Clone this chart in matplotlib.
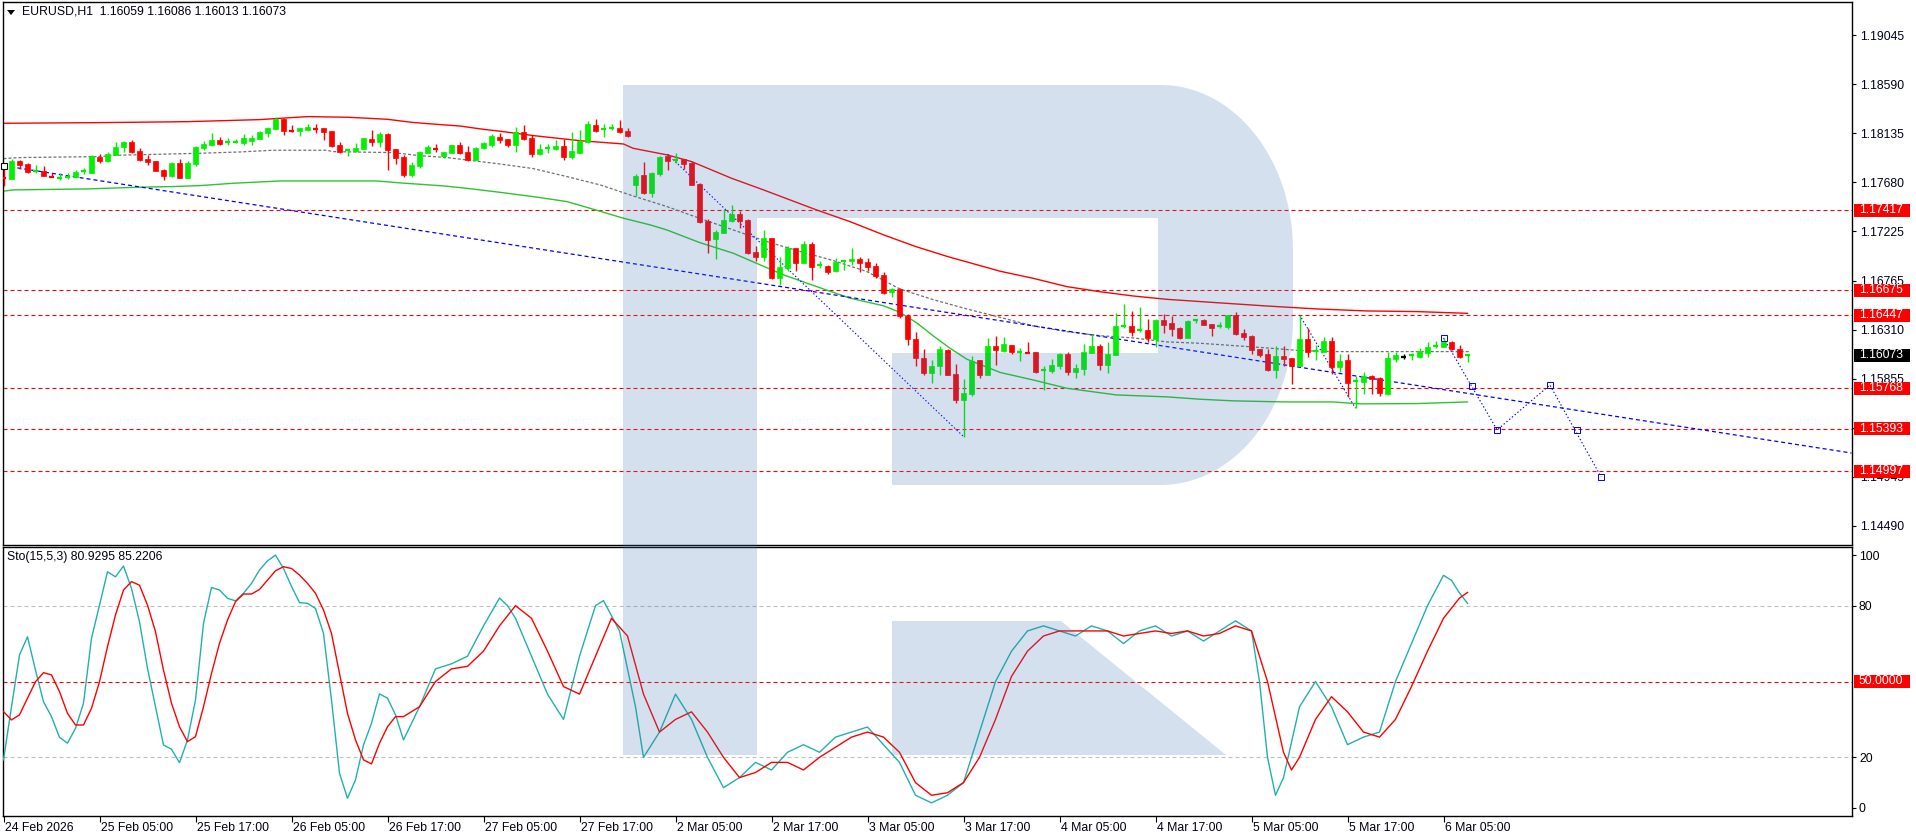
import matplotlib
matplotlib.use('Agg')
import matplotlib.pyplot as plt
import numpy as np
from matplotlib.patches import Rectangle, Polygon
import matplotlib.transforms as mtrans

plt.rcParams['lines.scale_dashes'] = False
plt.rcParams['font.family'] = ['Liberation Sans', 'DejaVu Sans']

# ---------------- DATA ----------------
opens = [1.17725,1.17713,1.17877,1.17849,1.17778,1.17784,1.17747,1.17710,1.17713,1.17732,
 1.17772,1.17769,1.17911,1.17877,1.17936,1.18004,1.18053,1.17970,1.17895,1.17877,
 1.17793,1.17738,1.17858,1.17722,1.17852,1.18000,1.18025,1.18071,1.18041,1.18050,
 1.18044,1.18062,1.18084,1.18136,1.18173,1.18263,1.18164,1.18158,1.18164,1.18192,
 1.18183,1.18155,1.18022,1.17966,1.17970,1.17988,1.18081,1.18056,1.18130,1.17988,
 1.17914,1.17747,1.17830,1.17954,1.18007,1.17926,1.17954,1.18025,1.17960,1.17889,
 1.17994,1.18028,1.18101,1.18081,1.18025,1.18143,1.18090,1.17945,1.17982,1.17988,
 1.18016,1.17914,1.17954,1.18050,1.18211,1.18161,1.18170,1.18183,1.18155,1.17654,
 1.17747,1.17583,1.17759,1.17923,1.17880,1.17892,1.17858,1.17664,1.17321,1.17154,
 1.17206,1.17321,1.17386,1.17330,1.17030,1.16981,1.17163,1.16795,1.16888,1.17070,
 1.16934,1.17107,1.16894,1.16904,1.16851,1.16938,1.16944,1.16968,1.16941,1.16904,
 1.16814,1.16659,1.16687,1.16440,1.16227,1.16051,1.15912,1.15970,1.16125,1.15902,
 1.15661,1.15717,1.16032,1.15893,1.16162,1.16117,1.16170,1.16099,1.16105,1.16105,
 1.15923,1.15932,1.15978,1.16090,1.15923,1.15950,1.16099,1.16164,1.15988,1.16080,
 1.16334,1.16346,1.16293,1.16309,1.16229,1.16402,1.16374,1.16331,1.16238,1.16389,
 1.16402,1.16365,1.16334,1.16340,1.16445,1.16281,1.16253,1.16136,1.16086,1.15941,
 1.16068,1.16049,1.15978,1.16229,1.16099,1.16108,1.16204,1.15966,1.16031,1.15818,
 1.15830,1.15882,1.15861,1.15719,1.16040,1.16062,1.16059,1.16062,1.16099,1.16148,
 1.16154,1.16198,1.16133,1.16059]
highs = [1.17800,1.17892,1.17886,1.17858,1.17837,1.17827,1.17762,1.17762,1.17762,1.17793,
 1.17812,1.17929,1.17939,1.17960,1.18053,1.18065,1.18071,1.17994,1.17929,1.17877,
 1.17803,1.17868,1.17895,1.17877,1.18019,1.18059,1.18139,1.18102,1.18093,1.18084,
 1.18127,1.18121,1.18155,1.18189,1.18285,1.18279,1.18211,1.18183,1.18220,1.18220,
 1.18183,1.18155,1.18053,1.17985,1.18041,1.18090,1.18164,1.18149,1.18139,1.17988,
 1.17929,1.17871,1.17970,1.18025,1.18034,1.17960,1.18025,1.18050,1.18016,1.18004,
 1.18053,1.18127,1.18133,1.18081,1.18189,1.18211,1.18115,1.18034,1.18034,1.18071,
 1.18078,1.18146,1.18164,1.18248,1.18266,1.18220,1.18220,1.18257,1.18180,1.17756,
 1.17868,1.17775,1.17920,1.17939,1.17948,1.17892,1.17880,1.17670,1.17336,1.17237,
 1.17429,1.17466,1.17410,1.17339,1.17083,1.17237,1.17163,1.16990,1.17083,1.17070,
 1.17135,1.17123,1.16944,1.16910,1.16975,1.16947,1.17070,1.16990,1.16978,1.16934,
 1.16848,1.16700,1.16697,1.16459,1.16289,1.16134,1.16032,1.16156,1.16131,1.15995,
 1.15856,1.16063,1.16032,1.16230,1.16255,1.16244,1.16170,1.16139,1.16198,1.16105,
 1.15978,1.16037,1.16096,1.16105,1.15994,1.16179,1.16269,1.16176,1.16198,1.16463,
 1.16550,1.16485,1.16522,1.16411,1.16414,1.16454,1.16439,1.16340,1.16405,1.16414,
 1.16408,1.16365,1.16383,1.16448,1.16473,1.16321,1.16266,1.16136,1.16136,1.16164,
 1.16161,1.16049,1.16448,1.16324,1.16170,1.16247,1.16247,1.16083,1.16086,1.15882,
 1.15920,1.15895,1.15876,1.16105,1.16108,1.16086,1.16099,1.16145,1.16201,1.16207,
 1.16235,1.16204,1.16167,1.16086]
lows = [1.17648,1.17710,1.17803,1.17762,1.17766,1.17741,1.17732,1.17704,1.17710,1.17725,
 1.17756,1.17766,1.17855,1.17871,1.17929,1.17960,1.17951,1.17877,1.17843,1.17784,
 1.17704,1.17732,1.17722,1.17722,1.17834,1.17976,1.18019,1.18025,1.18022,1.18041,
 1.18022,1.18025,1.18081,1.18102,1.18170,1.18121,1.18149,1.18112,1.18158,1.18139,
 1.18071,1.18010,1.17954,1.17926,1.17963,1.17988,1.18016,1.18010,1.17793,1.17852,
 1.17732,1.17732,1.17815,1.17948,1.17963,1.17902,1.17948,1.17942,1.17880,1.17889,
 1.17988,1.18010,1.18047,1.18010,1.17960,1.18071,1.17917,1.17936,1.17954,1.17979,
 1.17886,1.17898,1.17948,1.18041,1.18146,1.18102,1.18161,1.18139,1.18099,1.17552,
 1.17568,1.17546,1.17741,1.17793,1.17861,1.17806,1.17654,1.17299,1.17027,1.16971,
 1.17206,1.17311,1.17250,1.17009,1.16944,1.16944,1.16780,1.16727,1.16860,1.16860,
 1.16931,1.16774,1.16888,1.16832,1.16848,1.16863,1.16910,1.16848,1.16857,1.16789,
 1.16638,1.16610,1.16421,1.16171,1.15976,1.15887,1.15816,1.15893,1.15893,1.15630,
 1.15320,1.15692,1.15859,1.15887,1.15986,1.16108,1.16090,1.16025,1.16093,1.15913,
 1.15750,1.15907,1.15950,1.15892,1.15867,1.15895,1.16093,1.15938,1.15913,1.16077,
 1.16324,1.16253,1.16290,1.16201,1.16154,1.16284,1.16256,1.16229,1.16235,1.16377,
 1.16352,1.16253,1.16327,1.16321,1.16266,1.16219,1.16086,1.16056,1.15929,1.15867,
 1.15978,1.15808,1.15975,1.16062,1.16031,1.16105,1.15904,1.15923,1.15685,1.15583,
 1.15713,1.15713,1.15694,1.15703,1.16015,1.16037,1.16031,1.16049,1.16062,1.16139,
 1.16148,1.16123,1.16052,1.16013]
closes = [1.17716,1.17877,1.17843,1.17778,1.17787,1.17741,1.17732,1.17719,1.17732,1.17775,
 1.17787,1.17923,1.17877,1.17942,1.18007,1.18053,1.17960,1.17886,1.17868,1.17787,
 1.17741,1.17858,1.17722,1.17858,1.18007,1.18038,1.18071,1.18034,1.18053,1.18056,
 1.18087,1.18090,1.18146,1.18180,1.18269,1.18158,1.18155,1.18183,1.18195,1.18177,
 1.18149,1.18019,1.17963,1.17979,1.17994,1.18090,1.18056,1.18130,1.17982,1.17908,
 1.17750,1.17840,1.17963,1.18007,1.17988,1.17960,1.18025,1.17948,1.17886,1.17997,
 1.18041,1.18109,1.18075,1.18025,1.18146,1.18081,1.17945,1.17985,1.17997,1.18016,
 1.17917,1.17970,1.18062,1.18220,1.18158,1.18173,1.18183,1.18149,1.18109,1.17738,
 1.17583,1.17766,1.17914,1.17880,1.17889,1.17852,1.17654,1.17314,1.17144,1.17216,
 1.17330,1.17386,1.17324,1.17021,1.16981,1.17163,1.16789,1.16891,1.17070,1.16934,
 1.17107,1.16897,1.16907,1.16842,1.16941,1.16947,1.16965,1.16931,1.16897,1.16805,
 1.16656,1.16687,1.16434,1.16221,1.16044,1.15912,1.15976,1.16134,1.15893,1.15661,
 1.15723,1.16023,1.15893,1.16162,1.16119,1.16179,1.16108,1.16105,1.16099,1.15923,
 1.15935,1.15988,1.16090,1.15923,1.15957,1.16105,1.16164,1.15988,1.16086,1.16346,
 1.16346,1.16293,1.16309,1.16238,1.16402,1.16358,1.16321,1.16238,1.16392,1.16402,
 1.16358,1.16331,1.16346,1.16445,1.16272,1.16244,1.16127,1.16080,1.15938,1.16068,
 1.16043,1.15975,1.16229,1.16102,1.16117,1.16204,1.15966,1.16018,1.15821,1.15833,
 1.15882,1.15855,1.15728,1.16049,1.16077,1.16062,1.16074,1.16114,1.16154,1.16164,
 1.16195,1.16130,1.16062,1.16073]

# moving averages (bar index, price)
ma_red_idx = [0, 12, 23, 32, 38, 43, 48, 51, 54, 57, 60, 62, 66.2, 72, 77.5, 78.7, 83, 86, 91, 95,
              101.6, 105.8, 110, 114, 118, 124.6, 128.7, 132.9, 137, 141.2, 145.4, 151.6, 157.9,
              164.1, 170.4, 176.7, 183]
ma_red_val = [1.18226, 1.18232, 1.18241, 1.18260, 1.18288, 1.18282, 1.18263, 1.18235, 1.18217,
              1.18201, 1.18170, 1.18153, 1.18112, 1.18065, 1.18034, 1.17994, 1.17932, 1.17871,
              1.17716, 1.17608, 1.17423, 1.17314, 1.17191, 1.17083, 1.16990, 1.16853, 1.16788,
              1.16711, 1.16664, 1.16624, 1.16593, 1.16562, 1.16531, 1.16504, 1.16485, 1.16479,
              1.16463]
ma_gray_idx = [0, 2, 12, 14, 24.6, 29.6, 33.7, 40.4, 41.2, 48.7, 52, 55.4, 57.9, 62, 66.2, 70.4,
               74.6, 78.7, 82.9, 87, 91.2, 95.4, 99.6, 103.7, 107.9, 112.1, 116.3, 120.5, 124.6,
               128.7, 132.9, 137, 141.2, 145.4, 149.6, 153.7, 157.9, 162.1, 166.2, 183.3]
ma_gray_val = [1.17898, 1.17908, 1.17917, 1.17929, 1.17948, 1.17960, 1.17976, 1.17976, 1.17963,
               1.17954, 1.17926, 1.17908, 1.17886, 1.17849, 1.17806, 1.17732, 1.17654, 1.17552,
               1.17454, 1.17345, 1.17237, 1.17129, 1.17036, 1.16953, 1.16851, 1.16687, 1.16588,
               1.16502, 1.16425, 1.16346, 1.16293, 1.16256, 1.16235, 1.16198, 1.16185, 1.16164,
               1.16142, 1.16117, 1.16108, 1.16108]
ma_green_idx = [0, 1.2, 10.4, 17, 21.2, 24.6, 28.8, 34.6, 46.6, 49.6, 52.1, 55, 57.9, 62, 66.2,
                70.4, 73.3, 77.5, 80.8, 82.9, 87, 91.2, 94.1, 97.5, 101.6, 105.8, 110, 112.1,
                114.2, 116.3, 118.3, 120.4, 124.6, 128.7, 132.9, 135, 139.1, 145.4, 149.6,
                153.7, 160, 166.2, 169.6, 176.7, 183]
ma_green_val = [1.17596, 1.17608, 1.17617, 1.17633, 1.17639, 1.17648, 1.17670, 1.17691, 1.17691,
                1.17673, 1.17660, 1.17645, 1.17623, 1.17586, 1.17546, 1.17500, 1.17438, 1.17345,
                1.17284, 1.17237, 1.17120, 1.17021, 1.16928, 1.16820, 1.16712, 1.16604, 1.16533,
                1.16471, 1.16372, 1.16249, 1.16140, 1.16038, 1.15914, 1.15845, 1.15768, 1.15747,
                1.15706, 1.15688, 1.15666, 1.15651, 1.15641, 1.15641, 1.15623, 1.15626, 1.15641]

# drawn analysis lines
trend_idx = [0, 231]
trend_val = [1.17832, 1.15167]
wave1_idx = [83, 120]
wave1_val = [1.17939, 1.15320]
wave2_idx = [162, 169]
wave2_val = [1.16448, 1.15583]
fc_idx = [180, 186.7, 193.3, 199.7]
fc_val = [1.16235, 1.15381, 1.15798, 1.14945]
fc_mark_idx = [180, 183.6, 186.7, 193.3, 196.7, 199.7]
fc_mark_val = [1.16235, 1.15790, 1.15381, 1.15798, 1.15381, 1.14945]

levels = [1.17417, 1.16675, 1.16447, 1.15768, 1.15393, 1.14997]
last_price = 1.16073
price_ticks = [1.19045, 1.18590, 1.18135, 1.17680, 1.17225, 1.16765, 1.16310, 1.15855,
               1.15400, 1.14945, 1.14490]

# stochastic (15,5,3)
sto_main_idx = list(range(0, 51)) + [52, 54, 56, 58, 60, 62, 63, 64, 66, 68, 70, 72, 74, 75, 77,
    79, 80, 82, 84, 86, 88, 90, 92, 94, 96, 98, 100, 102, 104, 106, 108, 110, 112, 114, 116, 118,
    120, 122, 124, 126, 128, 130, 132, 134, 136, 138, 140, 142, 144, 146, 148, 150, 152, 154, 156,
    157, 158, 159, 160, 162, 164, 166, 168, 170, 172, 174, 176, 178, 180, 181, 182, 183]
sto_main_val = [19.0, 40.0, 60.5, 67.7, 54.5, 42.0, 36.1, 27.9, 25.6, 31.5, 41.4, 67.1, 80.2, 93.4,
    91.4, 95.7, 86.8, 73.6, 55.2, 40.0, 24.9, 23.2, 17.9, 26.9, 42.7, 73.0, 87.2, 86.2, 82.9, 81.9,
    84.9, 88.8, 94.1, 97.7, 100.0, 94.7, 87.6, 81.2, 80.9, 78.9, 69.0, 42.7, 13.7, 3.8, 11.1, 24.9,
    33.5, 45.1, 43.4, 36.8, 26.9,
    40, 55, 57, 60, 72, 83, 80, 75, 60, 45, 35, 60, 80, 82, 70, 40, 20, 30, 45, 35, 20, 8, 12, 18,
    15, 22, 25, 22, 28, 30, 32, 25, 18, 5, 2, 5, 10, 30, 50, 62, 70, 72, 70, 68, 72, 70, 65, 70,
    72, 68, 70, 66, 70, 74, 70, 50, 20, 5, 12, 40, 50, 40, 25, 28, 30, 50, 65, 80, 92, 90, 85,
    80.93]
sto_sig_idx = list(range(0, 51)) + [52, 54, 56, 58, 60, 62, 64, 66, 68, 70, 72, 74, 76, 78, 80, 82,
    84, 86, 88, 90, 92, 94, 96, 98, 100, 102, 104, 106, 108, 110, 112, 114, 116, 118, 120, 122, 124,
    126, 128, 130, 132, 134, 136, 138, 140, 142, 144, 146, 148, 150, 152, 154, 156, 158, 160, 161,
    162, 164, 166, 168, 170, 172, 174, 176, 178, 180, 182, 183]
sto_sig_val = [38.1, 34.8, 36.8, 43.4, 49.9, 53.5, 52.6, 46.0, 37.4, 32.8, 32.8, 39.4, 49.9, 63.8,
    76.3, 86.2, 89.5, 88.1, 80.2, 69.7, 54.5, 41.4, 32.1, 26.2, 28.2, 40.0, 53.2, 65.1, 74.3, 81.6,
    84.6, 84.6, 86.4, 90.1, 93.8, 95.4, 94.7, 92.1, 88.8, 84.9, 78.3, 69.0, 53.2, 37.4, 26.9, 19.0,
    17.4, 25.6, 32.1, 36.1, 36.1,
    40, 50, 55, 56, 62, 72, 80, 75, 62, 48, 45, 60, 75, 68, 45, 30, 35, 38, 30, 20, 12, 14, 18, 18,
    15, 20, 24, 28, 30, 28, 22, 10, 5, 6, 10, 20, 35, 52, 62, 68, 70, 70, 70, 70, 68, 69, 70, 69,
    70, 68, 69, 72, 70, 50, 22, 15, 20, 35, 44, 38, 30, 28, 35, 48, 62, 75, 83, 85.22]
sto_levels = [80, 20]

time_tick_idx = [0, 12, 24, 36, 48, 60, 72, 84, 96, 108, 120, 132, 144, 156, 168, 180]
time_tick_lbl = ['24 Feb 2026', '25 Feb 05:00', '25 Feb 17:00', '26 Feb 05:00', '26 Feb 17:00',
                 '27 Feb 05:00', '27 Feb 17:00', '2 Mar 05:00', '2 Mar 17:00', '3 Mar 05:00',
                 '3 Mar 17:00', '4 Mar 05:00', '4 Mar 17:00', '5 Mar 05:00', '5 Mar 17:00',
                 '6 Mar 05:00']

# ---------------- LAYOUT ----------------
W, H = 1916, 840
fig = plt.figure(figsize=(W / 100, H / 100), dpi=100)
fig.patch.set_facecolor('white')


def fx(px):
    return px / W


def fy(py):
    return 1 - py / H


PX = 0.72  # points per pixel
FS = 8.8
XL, XR = 3, 1852
ax = fig.add_axes([fx(XL), fy(545), fx(XR) - fx(XL), fy(2) - fy(545)])
ax2 = fig.add_axes([fx(XL), fy(816), fx(XR) - fx(XL), fy(547) - fy(816)])

xmin = (XL - 3.5) / 8
xmax = (XR - 3.5) / 8
ax.set_xlim(xmin, xmax)
ax2.set_xlim(xmin, xmax)
k = 0.04555 / 491.0
ax.set_ylim(1.19045 - 510 * k, 1.19045 + 33 * k)
ax2.set_ylim(-3.2, 103.2)

for a in (ax, ax2):
    a.set_facecolor('white')
    for s in a.spines.values():
        s.set_linewidth(1.0)
        s.set_color('black')
    a.set_xticks([])

GREEN = '#00f000'
RED = '#ff0000'
RED_DASH = (4 * PX, 3 * PX)

# levels
for lv in levels:
    ax.axhline(lv, color=RED, lw=0.8, dashes=RED_DASH, zorder=1)

# moving averages
ax.plot(ma_red_idx, ma_red_val, color=RED, lw=1.0, zorder=2)
ax.plot(ma_gray_idx, ma_gray_val, color='#707070', lw=0.9, dashes=(3 * PX, 2 * PX), zorder=2)
ax.plot(ma_green_idx, ma_green_val, color='#2ec42e', lw=1.0, zorder=2)

# trend/analysis lines
ax.plot(trend_idx, trend_val, color='#0000ff', lw=0.9, dashes=(4 * PX, 3 * PX), zorder=2)
ax.plot(trend_idx[0], trend_val[0], marker='s', ms=4.5, mfc='white', mec='black', mew=0.8,
        zorder=6, clip_on=False)
dot = (1.4 * PX, 2.2 * PX)
ax.plot(wave1_idx, wave1_val, color='#0000ff', lw=0.8, dashes=dot, zorder=2)
ax.plot(wave2_idx, wave2_val, color='#0000ff', lw=0.8, dashes=dot, zorder=2)
ax.plot(fc_idx, fc_val, color='#0000ff', lw=0.8, dashes=dot, zorder=2)
ax.plot(fc_mark_idx, fc_mark_val, ls='none', marker='s', ms=4, mfc='none', mec='#0000ff',
        mew=0.7, zorder=6)

# candles
bw = 0.66
for i, (o, h, l, c) in enumerate(zip(opens, highs, lows, closes)):
    if c > o:
        col = GREEN
    elif c < o:
        col = RED
    else:
        col = 'black'
    ax.plot([i, i], [l, h], color=col, lw=1.0, zorder=4, solid_capstyle='butt')
    lo, hi = min(o, c), max(o, c)
    if hi - lo < 2.2 * k:
        ax.plot([i - bw / 2, i + bw / 2], [c, c], color=col, lw=1.6, zorder=4,
                solid_capstyle='butt')
    else:
        ax.add_patch(Rectangle((i - bw / 2, lo), bw, hi - lo, fc=col, ec=col, lw=0.5, zorder=4))

# price axis
ax.yaxis.tick_right()
ax.set_yticks(price_ticks)
ax.set_yticklabels(['%.5f' % p for p in price_ticks])
ax.tick_params(axis='y', direction='out', length=3 * PX * 1.4, width=0.8, pad=3, labelsize=FS,
               colors='black')
for lab in ax.get_yticklabels():
    lab.set_color('#000020')

bt = mtrans.blended_transform_factory(ax.transAxes, ax.transData)
box_x = (1854 - XL) / (XR - XL)
box_w = 56 / (XR - XL)
txt_x = (1859 - XL) / (XR - XL)


def price_box(axis, trans, val, text, fc, half):
    axis.add_patch(Rectangle((box_x, val - half), box_w, 2 * half, transform=trans, fc=fc,
                             ec='none', clip_on=False, zorder=10))
    axis.text(txt_x, val, text, transform=trans, color='white', fontsize=FS, ha='left',
              va='center', clip_on=False, zorder=11)


for lv in levels:
    price_box(ax, bt, lv, '%.5f' % lv, '#ff0000', 6.5 * k)
price_box(ax, bt, last_price, '%.5f' % last_price, '#000000', 6.5 * k)

# stochastic panel
for lv in sto_levels:
    ax2.axhline(lv, color='#c0c0c0', lw=0.8, dashes=RED_DASH, zorder=1)
ax2.axhline(50, color=RED, lw=0.8, dashes=RED_DASH, zorder=1)
ax2.plot(sto_main_idx, sto_main_val, color='#20b2aa', lw=1.0, zorder=3)
ax2.plot(sto_sig_idx, sto_sig_val, color=RED, lw=1.0, zorder=3)
ax2.yaxis.tick_right()
ax2.set_yticks([100, 80, 20, 0])
ax2.set_yticklabels(['100', '80', '20', '0'])
ax2.tick_params(axis='y', direction='out', length=3, width=0.8, pad=2, labelsize=FS)
bt2 = mtrans.blended_transform_factory(ax2.transAxes, ax2.transData)
sp = 2.53
price_box(ax2, bt2, 50, '50.0000', '#ff0000', 6.5 / sp)

# time axis
ax2.set_xticks(time_tick_idx)
ax2.set_xticklabels([''] * len(time_tick_idx))
ax2.tick_params(axis='x', direction='out', length=4, width=0.8, pad=0)
bx = mtrans.blended_transform_factory(ax2.transData, ax2.transAxes)
for ti, tl in zip(time_tick_idx, time_tick_lbl):
    ax2.text(ti + 0.22, -12.0 / 269, tl, transform=bx, fontsize=FS, ha='left', va='center',
             clip_on=False, color='#000010')

# header texts
fig.text(fx(22), fy(12), 'EURUSD,H1  1.16059 1.16086 1.16013 1.16073', fontsize=FS,
         ha='left', va='center', color='#000010')
fig.patches.append(Polygon([(fx(7), fy(10)), (fx(15), fy(10)), (fx(11), fy(15))], closed=True,
                           transform=fig.transFigure, fc='black', ec='none', figure=fig))
fig.text(fx(7), fy(557), 'Sto(15,5,3) 80.9295 85.2206', fontsize=FS, ha='left', va='center',
         color='#000010')

# watermark (brand logo) overlay
t1 = np.linspace(-np.pi / 2, 0, 30)
t2 = np.linspace(0, np.pi / 2, 30)
pts = [(623, 85), (1161, 85)]
pts += [(1161 + 132 * np.cos(t), 250 + 165 * np.sin(t)) for t in t1]
pts += [(1161 + 132 * np.cos(t), 320 + 165 * np.sin(t)) for t in t2]
pts += [(892, 485), (892, 353), (1158, 353), (1158, 218), (757, 218), (757, 755), (623, 755)]
logo = [(fx(x), fy(y)) for x, y in pts]
leg = [(fx(x), fy(y)) for x, y in [(892, 621), (1061, 621), (1226, 755), (892, 755)]]
for poly in (logo, leg):
    fig.patches.append(Polygon(poly, closed=True, transform=fig.transFigure, fc='#4072b6',
                               ec='none', alpha=0.22, zorder=20, figure=fig))

fig.savefig('out.png', dpi=100, facecolor='white')
